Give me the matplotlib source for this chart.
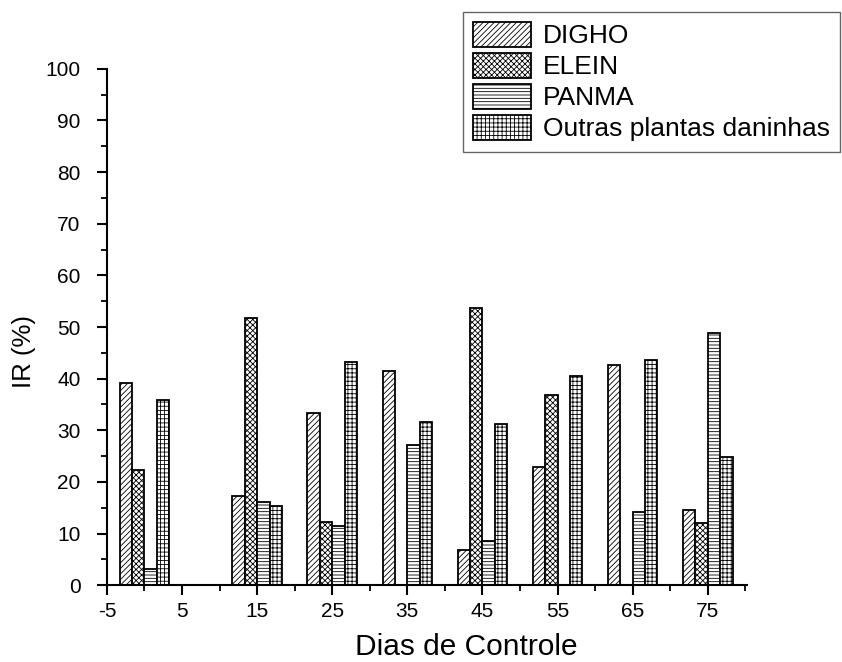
import numpy as np
import matplotlib
matplotlib.use("Agg")
import matplotlib.pyplot as plt
from matplotlib.ticker import MultipleLocator

plt.rcParams["font.family"] = ["Liberation Sans", "DejaVu Sans"]
plt.rcParams["hatch.linewidth"] = 0.6

# --- data ---
dias = [0, 15, 25, 35, 45, 55, 65, 75]
series_names = ["DIGHO", "ELEIN", "PANMA", "Outras plantas daninhas"]
digho = [39.1, 17.2, 33.3, 41.4, 6.8, 22.8, 42.6, 14.6]
elein = [22.4, 51.8, 12.3, 0.0, 53.6, 36.9, 0.0, 12.1]
panma = [3.2, 16.2, 11.4, 27.2, 8.6, 0.0, 14.2, 48.9]
outras = [35.8, 15.3, 43.3, 31.7, 31.3, 40.6, 43.7, 24.9]
hatches = ["//////", "xxxxxx", "-----", "++++"]

fig = plt.figure(figsize=(8.42, 6.62), dpi=100)
ax = fig.add_axes([0.127, 0.116, 0.76, 0.78])

width = 1.65
x = np.array(dias, dtype=float)
all_vals = [digho, elein, panma, outras]
for i, (name, vals, h) in enumerate(zip(series_names, all_vals, hatches)):
    offs = (i - 1.5) * width
    ax.bar(x + offs, vals, width=width, color="white", edgecolor="black",
           linewidth=1.3, hatch=h, label=name)

ax.set_xlim(-5, 80.2)
ax.set_ylim(0, 100)
ax.set_xticks(np.arange(-5, 80, 10))
ax.set_xticklabels([str(v) for v in range(-5, 80, 10)])
ax.xaxis.set_minor_locator(MultipleLocator(5))
ax.yaxis.set_major_locator(MultipleLocator(10))
ax.yaxis.set_minor_locator(MultipleLocator(5))

for s in ["top", "right"]:
    ax.spines[s].set_visible(False)
for s in ["left", "bottom"]:
    ax.spines[s].set_linewidth(1.5)

ax.tick_params(which="major", direction="out", length=7, width=1.5, labelsize=15)
ax.tick_params(which="minor", direction="out", length=4, width=1.3)
ax.tick_params(axis="x", pad=5)
ax.tick_params(axis="y", pad=12)

# axis titles sit off-centre in the original, placed by hand
ax.set_xlabel("Dias de Controle", fontsize=21.5)
ax.xaxis.set_label_coords(0.561, -0.092)
ax.set_ylabel("IR (%)", fontsize=18.5)
ax.yaxis.set_label_coords(-0.111, 0.452)

leg = fig.legend(loc="upper right", bbox_to_anchor=(0.998, 0.982),
                 fontsize=19, fancybox=False, frameon=True, edgecolor="#404040",
                 handlelength=2.2, handleheight=1.06, handletextpad=0.45,
                 labelspacing=0.18, borderpad=0.38, borderaxespad=0.0)
leg.get_frame().set_linewidth(1.0)

fig.savefig("out.png", dpi=100)
